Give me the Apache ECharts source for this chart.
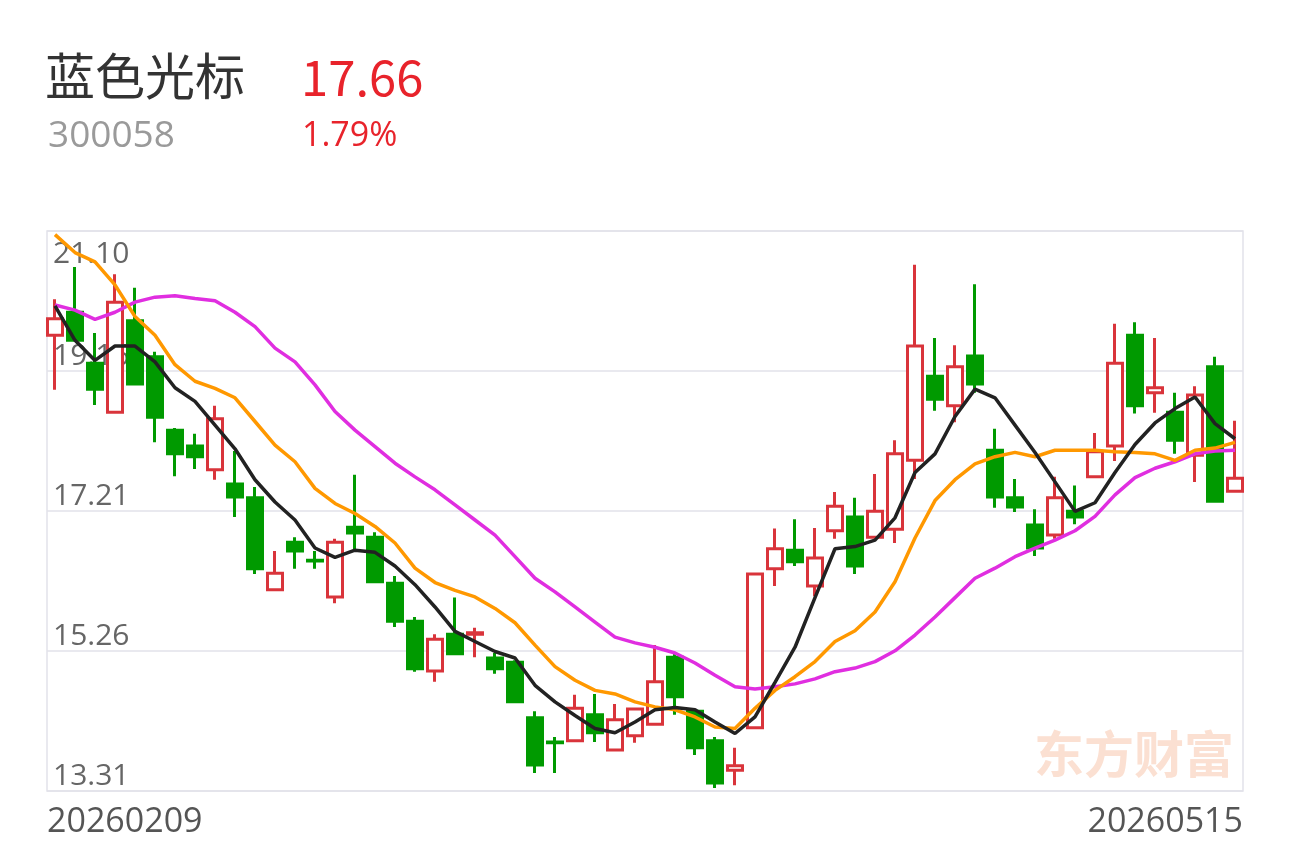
<!DOCTYPE html>
<html><head><meta charset="utf-8">
<script src="https://cdn.jsdelivr.net/npm/echarts@6/dist/echarts.min.js"></script>
<style>html,body{margin:0;padding:0;background:#fff}#c{width:1290px;height:843px}</style>
</head><body><div id="c"></div>
<script>
const stockName = '蓝色光标';
const stockCode = '300058';
const lastPrice = '17.66';
const changePct = '1.79%';
const watermark = '东方财富';

const dates = [
 '20260209','20260210','20260211','20260212','20260213','20260224','20260225','20260226','20260227',
 '20260302','20260303','20260304','20260305','20260306','20260309','20260310','20260311','20260312','20260313',
 '20260316','20260317','20260318','20260319','20260320','20260323','20260324','20260325','20260326','20260327',
 '20260330','20260331',
 '20260401','20260402','20260403','20260407','20260408','20260409','20260410','20260413','20260414','20260415',
 '20260416','20260417','20260420','20260421','20260422','20260423','20260424','20260427','20260428','20260429','20260430',
 '20260506','20260507','20260508','20260511','20260512','20260513','20260514','20260515'
];
const openP = [19.65,19.97,19.26,18.58,19.85,19.35,18.33,18.11,17.78,17.58,
 17.39,16.11,16.77,16.52,16.01,16.98,16.84,16.20,15.67,14.98,
 15.49,15.49,15.16,15.10,14.33,13.99,14.01,14.37,13.88,14.08,
 14.24,15.17,14.42,14.01,13.60,14.19,16.40,16.66,16.16,16.93,
 17.12,16.84,16.95,17.91,19.08,18.67,19.36,18.05,17.39,17.01,
 16.87,17.20,17.68,18.11,19.65,18.85,18.58,17.98,19.21,17.48];
const closeP = [19.88,19.58,18.90,20.11,18.97,18.51,18.00,17.96,18.49,17.40,
 16.40,16.34,16.65,16.51,16.77,16.90,16.22,15.67,15.01,15.42,
 15.22,15.51,15.01,14.55,13.67,13.98,14.46,14.12,14.30,14.45,
 14.83,14.62,13.91,13.42,13.66,16.33,16.68,16.50,16.55,17.27,
 16.44,17.20,18.00,19.50,18.76,19.21,18.97,17.40,17.26,16.69,
 17.39,17.12,18.03,19.26,18.67,18.92,18.19,18.82,17.34,17.66];
const lowP = [18.89,19.57,18.68,18.57,18.96,18.16,17.69,17.79,17.64,17.12,
 16.33,16.10,16.40,16.40,15.92,16.66,16.20,15.59,14.97,14.83,
 15.20,15.17,14.94,14.53,13.56,13.56,14.00,13.99,13.87,13.98,
 14.23,14.37,13.81,13.35,13.39,14.19,16.16,16.44,16.02,16.82,
 16.33,16.83,16.76,17.65,18.60,18.44,18.85,17.25,17.19,16.58,
 16.82,17.02,17.67,17.90,18.56,18.57,18.00,17.61,17.32,17.47];
const highP = [20.15,20.60,19.68,20.50,20.31,19.42,18.36,18.28,18.67,18.04,
 17.54,16.65,16.84,16.65,16.82,17.71,16.91,16.30,15.73,15.49,
 16.00,15.58,15.23,15.13,14.42,14.06,14.65,14.66,14.52,14.47,
 15.34,15.24,14.45,14.06,13.91,16.33,16.96,17.09,16.97,17.47,
 17.39,17.72,18.19,20.63,19.61,19.51,20.36,18.35,17.65,17.23,
 17.68,17.56,18.29,19.81,19.83,19.61,18.85,18.94,19.35,18.46];
const ma5 = [20.06,19.58,19.30,19.50,19.50,19.28,18.92,18.73,18.40,18.07,
 17.64,17.33,17.08,16.69,16.56,16.66,16.63,16.44,16.18,15.87,
 15.53,15.39,15.25,15.16,14.78,14.55,14.36,14.18,14.12,14.27,
 14.44,14.47,14.44,14.27,14.11,14.34,14.82,15.31,16.00,16.68,
 16.71,16.80,17.11,17.74,18.00,18.52,18.90,18.78,18.40,18.02,
 17.61,17.20,17.32,17.74,18.13,18.43,18.63,18.79,18.42,18.21];
const ma10 = [21.05,20.80,20.67,20.35,19.91,19.65,19.24,19.01,18.91,18.78,
 18.45,18.12,17.89,17.52,17.31,17.17,16.99,16.76,16.41,16.21,
 16.10,16.01,15.85,15.65,15.34,15.04,14.85,14.71,14.66,14.55,
 14.48,14.44,14.34,14.20,14.18,14.46,14.71,14.90,15.11,15.39,
 15.54,15.80,16.22,16.83,17.35,17.64,17.86,17.96,18.02,17.96,
 18.05,18.05,18.05,18.03,18.02,18.00,17.91,18.05,18.08,18.16];
const ma20 = [20.07,20.00,19.87,19.97,20.11,20.18,20.20,20.16,20.13,19.97,
 19.77,19.47,19.28,18.96,18.59,18.33,18.10,17.87,17.68,17.50,
 17.29,17.08,16.87,16.57,16.27,16.08,15.87,15.66,15.45,15.37,
 15.31,15.23,15.09,14.92,14.76,14.73,14.76,14.80,14.87,14.97,
 15.02,15.11,15.26,15.48,15.73,16.00,16.27,16.41,16.57,16.69,
 16.80,16.93,17.13,17.43,17.67,17.80,17.89,18.00,18.04,18.05];
const yTickLabels = ['13.31','15.26','17.21','19.16','21.10'];

const yMin = parseFloat(yTickLabels[0]);
const yMax = parseFloat(yTickLabels[yTickLabels.length - 1]);
const yInterval = (yMax - yMin) / (yTickLabels.length - 1);
function nearestLabel(v) {
  let best = yTickLabels[0], d = 1e9;
  yTickLabels.forEach(t => { const dd = Math.abs(parseFloat(t) - v); if (dd < d) { d = dd; best = t; } });
  return best;
}

const FONT = '"Noto Sans CJK SC", "Noto Sans", sans-serif';
const NUM = '"Open Sans", "Noto Sans", sans-serif';
const RED = '#d9343b', GREEN = '#009a00', GRID = '#e2e2ea';
const kData = dates.map((d, i) => [openP[i], closeP[i], lowP[i], highP[i]]);

const chart = echarts.init(document.getElementById('c'));
chart.setOption({
  animation: false,
  textStyle: { fontFamily: FONT },
  title: [
    { text: stockName, left: 40, top: 46, textStyle: { fontSize: 50, color: '#333', fontWeight: 'normal', fontFamily: FONT } },
    { text: lastPrice, left: 296, top: 48, textStyle: { fontSize: 49, color: '#e8232b', fontWeight: 'normal', fontFamily: FONT } },
    { text: stockCode, left: 43, top: 113, textStyle: { fontSize: 37, color: '#9a9a9a', fontWeight: 'normal', fontFamily: NUM } },
    { text: changePct, left: 297, top: 114, textStyle: { fontSize: 34, color: '#e8232b', fontWeight: 'normal', fontFamily: NUM } },
    { text: watermark, left: 1029, top: 724, textStyle: { fontSize: 50, color: '#fbe0d2', fontWeight: 'bold', fontFamily: FONT } }
  ],
  grid: [
    { left: 45, right: 45, top: 231, height: 560 },
    { left: 47, right: 47, top: 231, height: 560, show: true, borderColor: GRID, borderWidth: 1.5, backgroundColor: 'transparent' }
  ],
  xAxis: [
    { type: 'category', gridIndex: 0, data: dates, boundaryGap: true, show: false },
    { type: 'category', gridIndex: 1, data: [dates[0], dates[dates.length - 1]], boundaryGap: false,
      axisLine: { show: false }, axisTick: { show: false }, splitLine: { show: false },
      axisLabel: { interval: 0, margin: 14, fontSize: 34, color: '#555', fontFamily: NUM, alignMinLabel: 'left', alignMaxLabel: 'right' } }
  ],
  yAxis: [
    { type: 'value', gridIndex: 0, min: yMin, max: yMax, show: false },
    { type: 'value', gridIndex: 1, position: 'left', offset: 0, min: yMin, max: yMax, interval: yInterval,
      axisLine: { show: false }, axisTick: { show: false },
      splitLine: { show: true, lineStyle: { color: GRID, width: 1.5 } },
      axisLabel: { inside: true, margin: 6, verticalAlign: 'bottom', fontSize: 30, color: '#666', fontFamily: NUM,
        formatter: v => (Math.abs(v - yMax) < 1e-6 ? '' : nearestLabel(v)) } },
    { type: 'value', gridIndex: 1, position: 'left', offset: 0, min: yMin, max: yMax, interval: yInterval,
      axisLine: { show: false }, axisTick: { show: false }, splitLine: { show: false },
      axisLabel: { inside: true, margin: 6, verticalAlign: 'top', padding: [8, 0, 0, 0], fontSize: 30, color: '#666', fontFamily: NUM,
        formatter: v => (Math.abs(v - yMax) < 1e-6 ? nearestLabel(v) : '') } }
  ],
  series: [
    { type: 'candlestick', xAxisIndex: 0, yAxisIndex: 0, data: kData, barWidth: 15,
      itemStyle: { color: '#ffffff', color0: GREEN, borderColor: RED, borderColor0: GREEN, borderWidth: 3 } },
    { type: 'line', xAxisIndex: 0, yAxisIndex: 0, data: ma20, symbol: 'none', lineStyle: { color: '#e02ee0', width: 3.5 } },
    { type: 'line', xAxisIndex: 0, yAxisIndex: 0, data: ma10, symbol: 'none', lineStyle: { color: '#ff9800', width: 3.5 } },
    { type: 'line', xAxisIndex: 0, yAxisIndex: 0, data: ma5, symbol: 'none', lineStyle: { color: '#222222', width: 3.5 } }
  ]
});
</script></body></html>
